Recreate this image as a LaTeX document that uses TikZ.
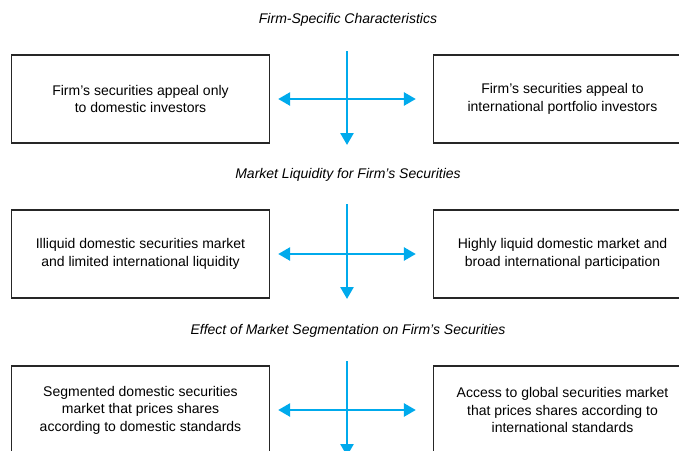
\documentclass[tikz,border=0pt]{standalone}
\usepackage{fontspec}
\setmainfont{Liberation Sans}
\usepackage{tikz}
\usetikzlibrary{arrows.meta}
\definecolor{flowcyan}{RGB}{0,170,236}
\tikzstyle{heading} = [font=\fontsize{14}{17}\selectfont\itshape, inner sep=1pt]
\tikzstyle{box} = [draw=black!85, line width=1.3pt, minimum width=258pt, minimum height=88pt, align=center, font=\fontsize{14}{17.5}\selectfont, inner sep=0pt]
\tikzstyle{flow} = [line width=2.6pt, flowcyan, -{Triangle[width=13pt,length=12pt]}]
\tikzstyle{twoway} = [line width=2.6pt, flowcyan, {Triangle[width=13pt,length=12pt]}-{Triangle[width=13pt,length=12pt]}]

\begin{document}
\begin{tikzpicture}[x=1pt,y=-1pt]
				\useasboundingbox (0,0) rectangle (679,450);
				\clip (0,0) rectangle (679,450);
				% firm-specific characteristics
				\node[heading] (head1) at (348,20) {Firm-Specific Characteristics};
				\node[box] (left1) at (140.5,99) {Firm's securities appeal only\\to domestic investors};
				\node[box] (right1) at (562.5,99) {Firm's securities appeal to\\international portfolio investors};
				\coordinate (top1) at (347,51);
				\coordinate (bot1) at (347,145);
				\draw[flow] (top1) -- (bot1);
				\draw[twoway,shorten <=8pt,shorten >=17pt] (left1.east) -- (right1.west);
				% market liquidity
				\node[heading] (head2) at (348,175) {Market Liquidity for Firm's Securities};
				\node[box] (left2) at (140.5,254) {Illiquid domestic securities market\\and limited international liquidity};
				\node[box] (right2) at (562.5,254) {Highly liquid domestic market and\\broad international participation};
				\coordinate (top2) at (347,204);
				\coordinate (bot2) at (347,299);
				\draw[flow] (top2) -- (bot2);
				\draw[twoway,shorten <=8pt,shorten >=17pt] (left2.east) -- (right2.west);
				% market segmentation
				\node[heading] (head3) at (348,331) {Effect of Market Segmentation on Firm's Securities};
				\node[box] (left3) at (140.5,410) {Segmented domestic securities\\market that prices shares\\according to domestic standards};
				\node[box] (right3) at (562.5,410) {Access to global securities market\\that prices shares according to\\international standards};
				\coordinate (top3) at (347,361);
				\coordinate (bot3) at (347,456);
				\draw[flow] (top3) -- (bot3);
				\draw[twoway,shorten <=8pt,shorten >=17pt] (left3.east) -- (right3.west);
			\end{tikzpicture}
\end{document}
